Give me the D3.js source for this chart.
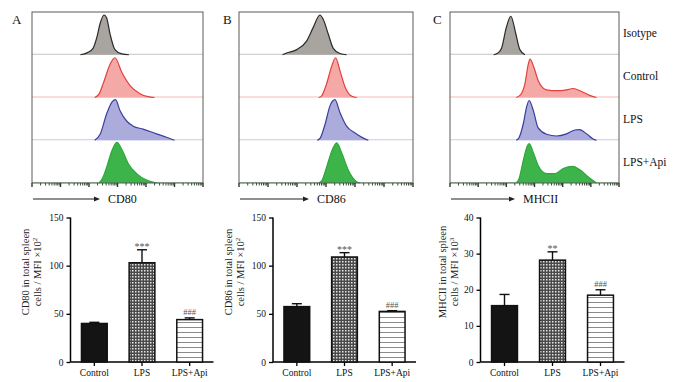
<!DOCTYPE html>
<html>
<head>
<meta charset="utf-8">
<title>CD80 / CD86 / MHCII</title>
<script src="https://cdnjs.cloudflare.com/ajax/libs/d3/7.8.5/d3.min.js"></script>
<style>
    body { margin: 0; background: #fff; }
    svg text { font-family: "Liberation Serif", "Times New Roman", serif; fill: #111; }
</style>
</head>
<body>
<svg id="fig" width="675" height="382"></svg>
<script>
    // histogram rows (x = log decade, y = relative count)
    const samples = ["Isotype", "Control", "LPS", "LPS+Api"];

    const isoA = [[1.7,0],[1.95,0.05],[2.14,0.15],[2.28,0.42],[2.39,0.73],[2.53,0.93],[2.62,0.86],[2.74,0.48],[2.91,0.12],[3.15,0.02],[3.4,0]];
    const ctrlA = [[2.2,0],[2.35,0.08],[2.5,0.33],[2.74,0.78],[2.91,0.93],[3.15,0.59],[3.44,0.28],[3.79,0.09],[4.07,0.02],[4.3,0]];
    const lpsA = [[2.2,0],[2.39,0.14],[2.62,0.62],[2.81,0.9],[2.93,0.95],[3.09,0.69],[3.32,0.45],[3.55,0.33],[3.9,0.26],[4.37,0.15],[4.72,0.07],[5.0,0]];
    const apiA = [[2.35,0],[2.45,0.08],[2.62,0.37],[2.8,0.75],[2.98,0.95],[3.15,0.79],[3.38,0.45],[3.67,0.22],[4.02,0.07],[4.4,0]];

    const isoB = [[1.5,0],[1.64,0.04],[1.99,0.12],[2.33,0.32],[2.56,0.64],[2.79,0.93],[2.91,0.82],[3.08,0.48],[3.25,0.15],[3.48,0.03],[3.71,0]];
    const ctrlB = [[2.75,0],[2.85,0.04],[3.02,0.32],[3.2,0.74],[3.33,0.93],[3.48,0.63],[3.66,0.24],[3.89,0.03],[4.06,0]];
    const lpsB = [[2.7,0],[2.8,0.05],[2.97,0.38],[3.14,0.81],[3.31,0.95],[3.48,0.65],[3.71,0.33],[4.0,0.17],[4.29,0.05],[4.46,0]];
    const apiB = [[2.75,0],[2.85,0.05],[3.02,0.37],[3.2,0.75],[3.37,0.94],[3.54,0.71],[3.77,0.3],[4.06,0.03],[4.17,0]];

    const isoC = [[1.55,0],[1.7,0.04],[1.83,0.15],[2.0,0.64],[2.16,0.9],[2.34,0.48],[2.48,0.12],[2.66,0]];
    const ctrlC = [[2.35,0],[2.5,0.06],[2.66,0.32],[2.78,0.78],[2.84,0.9],[2.98,0.7],[3.13,0.4],[3.43,0.18],[3.78,0.16],[4.14,0.18],[4.37,0.21],[4.67,0.14],[4.96,0.05],[5.2,0]];
    const lpsC = [[2.35,0],[2.45,0.06],[2.6,0.38],[2.72,0.78],[2.81,0.93],[2.96,0.69],[3.13,0.29],[3.43,0.14],[3.78,0.1],[4.14,0.15],[4.43,0.24],[4.6,0.25],[4.85,0.15],[5.08,0.03],[5.2,0]];
    const apiC = [[2.35,0],[2.45,0.1],[2.6,0.52],[2.74,0.86],[2.81,0.92],[2.96,0.71],[3.13,0.41],[3.43,0.22],[3.72,0.22],[4.02,0.34],[4.37,0.39],[4.61,0.31],[4.91,0.14],[5.2,0]];

    // bar charts
    const groups = ["Control", "LPS", "LPS+Api"];
    const cd80Mean = [40, 103, 44];
    const cd80Err = [1.2, 13.5, 1.8];
    const cd80Sig = ["", "***", "###"];
    const cd86Mean = [57.5, 109, 52.5];
    const cd86Err = [3, 4.5, 0.8];
    const cd86Sig = ["", "***", "###"];
    const mhcMean = [15.6, 28.2, 18.5];
    const mhcErr = [3.1, 2.3, 1.5];
    const mhcSig = ["", "**", "###"];
    const ticks150 = [0, 50, 100, 150];
    const ticks40 = [0, 10, 20, 30, 40];

    const rowStyle = [
        { fill: "#a8a5a1", stroke: "#2a2a2a", base: "#c4c4c4" },
        { fill: "#f5a9a6", stroke: "#e4403b", base: "#f2b9b7" },
        { fill: "#abacdc", stroke: "#3b3f9c", base: "#c9cae8" },
        { fill: "#3db44a", stroke: "#2fa63c", base: "#a2d6a7" }
    ];

    const svg = d3.select("#fig");

    // patterns for bars
    const defs = svg.append("defs");
    const chk = defs.append("pattern").attr("id", "checker")
        .attr("patternUnits", "userSpaceOnUse").attr("width", 3).attr("height", 3);
    chk.append("rect").attr("width", 3).attr("height", 3).attr("fill", "#4a4a4a");
    chk.append("rect").attr("width", 1.5).attr("height", 1.5).attr("fill", "#e6e6e6");
    const hl = defs.append("pattern").attr("id", "hlines")
        .attr("patternUnits", "userSpaceOnUse").attr("width", 4).attr("height", 5);
    hl.append("rect").attr("width", 4).attr("height", 5).attr("fill", "#fff");
    hl.append("rect").attr("y", 2).attr("width", 4).attr("height", 1).attr("fill", "#8a8a8a");
    const barFills = ["#141414", "url(#checker)", "url(#hlines)"];

    const histTop = 12, histBottom = 183;

    function drawHist(x0, x1, curves, marker, arrowEnd, letter, letterX) {
        const g = svg.append("g");
        const x = d3.scaleLinear().domain([0, 6]).range([x0, x1]);
        const rowH = (histBottom - histTop) / curves.length;

        curves.forEach((c, i) => {
            const yb = histTop + rowH * (i + 1);
            const y = d3.scaleLinear().domain([0, 1]).range([yb, yb - rowH]);
            const st = rowStyle[i];
            g.append("line").attr("x1", x0).attr("x2", x1).attr("y1", yb - 0.5).attr("y2", yb - 0.5)
                .attr("stroke", st.base).attr("stroke-width", 1);
            g.append("path").datum(c)
                .attr("d", d3.area().x(d => x(d[0])).y0(yb).y1(d => y(d[1])).curve(d3.curveMonotoneX))
                .attr("fill", st.fill);
            g.append("path").datum(c)
                .attr("d", d3.line().x(d => x(d[0])).y(d => y(d[1])).curve(d3.curveMonotoneX))
                .attr("fill", "none").attr("stroke", st.stroke).attr("stroke-width", 1.2);
        });

        g.append("rect").attr("x", x0).attr("y", histTop).attr("width", x1 - x0).attr("height", histBottom - histTop)
            .attr("fill", "none").attr("stroke", "#5a5a5a").attr("stroke-width", 1);

        // log ticks along the bottom
        const lx = d3.scaleLog().domain([1, 1e6]).range([x0, x1]);
        const tks = lx.ticks();
        g.selectAll(".lt").data(tks).join("line")
            .attr("x1", d => lx(d)).attr("x2", d => lx(d))
            .attr("y1", histBottom)
            .attr("y2", d => {
                const m = d / Math.pow(10, Math.floor(Math.log10(d) + 1e-9));
                return histBottom + (Math.abs(m - 1) < 1e-6 ? 4 : 2.5);
            })
            .attr("stroke", "#333")
            .attr("stroke-width", d => {
                const m = d / Math.pow(10, Math.floor(Math.log10(d) + 1e-9));
                return Math.abs(m - 1) < 1e-6 ? 1.4 : 0.9;
            });

        // arrow and marker name
        const ay = 199;
        g.append("line").attr("x1", x0 + 1).attr("x2", arrowEnd - 4).attr("y1", ay).attr("y2", ay)
            .attr("stroke", "#222").attr("stroke-width", 1.1);
        g.append("path").attr("d", `M${arrowEnd},${ay} L${arrowEnd - 6},${ay - 2.5} L${arrowEnd - 6},${ay + 2.5} Z`)
            .attr("fill", "#222");
        g.append("text").attr("x", arrowEnd + 8).attr("y", ay + 4).attr("font-size", 12).text(marker);

        g.append("text").attr("x", letterX).attr("y", 24).attr("font-size", 13).text(letter);
    }

    drawHist(32, 203, [isoA, ctrlA, lpsA, apiA], "CD80", 100, "A", 12);
    drawHist(239, 413, [isoB, ctrlB, lpsB, apiB], "CD86", 309, "B", 223);
    drawHist(450, 619, [isoC, ctrlC, lpsC, apiC], "MHCII", 515, "C", 433);

    // sample names on the right
    const rowH = (histBottom - histTop) / samples.length;
    svg.append("g").selectAll("text").data(samples).join("text")
        .attr("x", 623)
        .attr("y", (d, i) => histTop + rowH * (i + 0.5) + 4)
        .attr("font-size", 11.5)
        .text(d => d);

    const barTop = 217.5, barBottom = 362;

    function drawBars(x0, w, ymax, ticks, mean, err, sig, labelLines, labelX) {
        const g = svg.append("g");
        const x = d3.scaleBand().domain(groups).range([x0, x0 + w]).paddingInner(0.46).paddingOuter(0.23);
        const y = d3.scaleLinear().domain([0, ymax]).range([barBottom, barTop]);

        g.append("g").attr("transform", `translate(${x0},0)`)
            .call(d3.axisLeft(y).tickValues(ticks).tickSize(4).tickPadding(3))
            .call(a => a.select(".domain").attr("d", `M0,${barBottom}V${barTop}`).attr("stroke-width", 1.5))
            .call(a => a.selectAll(".tick line").attr("stroke-width", 1.3))
            .call(a => a.selectAll("text").attr("font-size", 9.5).attr("font-family", "Liberation Serif"));

        g.append("g").attr("transform", `translate(0,${barBottom})`)
            .call(d3.axisBottom(x).tickSize(4).tickPadding(3))
            .call(a => a.select(".domain").attr("d", `M${x0},0H${x0 + w}`).attr("stroke-width", 1.5))
            .call(a => a.selectAll(".tick line").attr("stroke-width", 1.3))
            .call(a => a.selectAll("text").attr("font-size", 9.5).attr("font-family", "Liberation Serif"));

        groups.forEach((grp, i) => {
            const cx = x(grp) + x.bandwidth() / 2;
            const yt = y(mean[i] + err[i]);
            g.append("line").attr("x1", cx).attr("x2", cx).attr("y1", y(mean[i])).attr("y2", yt)
                .attr("stroke", "#111").attr("stroke-width", 1.4);
            g.append("line").attr("x1", cx - 5).attr("x2", cx + 5).attr("y1", yt).attr("y2", yt)
                .attr("stroke", "#111").attr("stroke-width", 1.4);
            g.append("rect").attr("x", x(grp)).attr("y", y(mean[i]))
                .attr("width", x.bandwidth()).attr("height", barBottom - y(mean[i]))
                .attr("fill", barFills[i]).attr("stroke", "#111").attr("stroke-width", 1.5);
            if (sig[i]) {
                g.append("text").attr("x", cx).attr("y", yt - (sig[i][0] === "*" ? 0 : 3))
                    .attr("text-anchor", "middle").attr("font-size", sig[i][0] === "*" ? 10 : 8.5)
                    .style("fill", "#555").text(sig[i]);
            }
        });

        const cy = 272;
        labelLines.forEach((t, k) => {
            g.append("text")
                .attr("transform", `translate(${labelX + k * 12},${cy}) rotate(-90)`)
                .attr("text-anchor", "middle").attr("font-size", 10.5)
                .style("fill", "#222")
                .html(t);
        });
    }

    drawBars(70.5, 143, 150, ticks150, cd80Mean, cd80Err, cd80Sig,
        ["CD80 in total spleen", "cells / MFI ×10<tspan font-size='7' dy='-4'>2</tspan>"], 29);
    drawBars(273, 143, 150, ticks150, cd86Mean, cd86Err, cd86Sig,
        ["CD86 in total spleen", "cells / MFI ×10<tspan font-size='7' dy='-4'>2</tspan>"], 232);
    drawBars(480.5, 144, 40, ticks40, mhcMean, mhcErr, mhcSig,
        ["MHCII in total spleen", "cells / MFI ×10<tspan font-size='7' dy='-4'>3</tspan>"], 446);
</script>
</body>
</html>
